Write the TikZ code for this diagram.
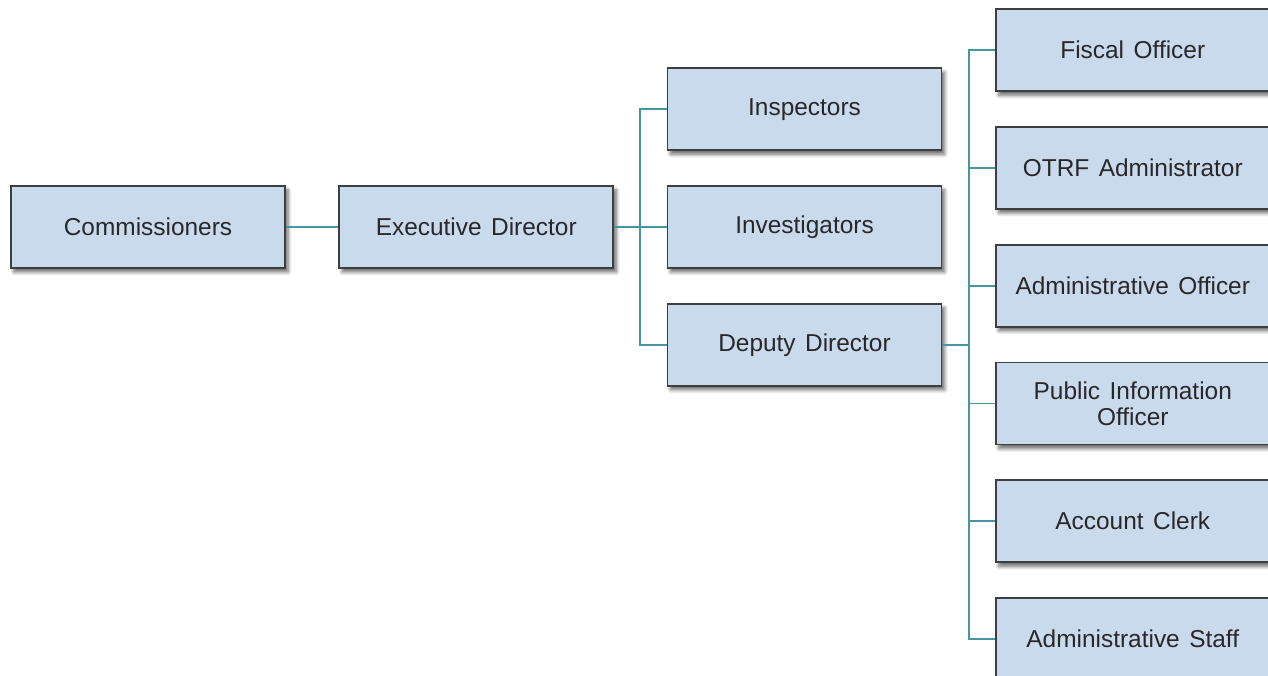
\documentclass[tikz,border=0pt]{standalone}
\usepackage{fontspec}
\setmainfont{Liberation Sans}[WordSpace=1.4]
\usetikzlibrary{positioning,calc,shadows.blur}
\definecolor{boxfill}{RGB}{201,218,237}
\definecolor{boxedge}{RGB}{62,62,62}
\definecolor{wire}{RGB}{70,150,162}
\definecolor{ink}{RGB}{40,40,40}
\tikzstyle{box} = [rectangle, draw=boxedge, line width=1pt, fill=boxfill, text=ink,
    minimum width=5.48cm, minimum height=1.64cm, align=center,
    font=\fontsize{13.9}{15}\selectfont,
    blur shadow={shadow xshift=0.06cm, shadow yshift=-0.08cm, shadow blur steps=6, shadow opacity=60}]
\tikzstyle{line} = [draw=wire, line width=1.1pt]

\begin{document}
\begin{tikzpicture}[node distance=0.68cm and 1.05cm]
	\useasboundingbox (0,0) rectangle (25.36,-13.52);

		\node [box] (comm) at (2.96,-4.54) {Commissioners};
		\node [box, right=of comm] (exec) {Executive Director};
		\node [box, right=of exec] (invest) {Investigators};
		\node [box, above=of invest] (insp) {Inspectors};
		\node [box, below=of invest] (deputy) {Deputy Director};

		\node [box, right=of deputy, yshift=1.18cm] (admoff) {Administrative Officer};
		\node [box, above=of admoff] (otrf) {OTRF Administrator};
		\node [box, above=of otrf] (fiscal) {Fiscal Officer};
		\node [box, below=of admoff] (pio) {Public Information\\Officer};
		\node [box, below=of pio] (clerk) {Account Clerk};
		\node [box, below=of clerk] (staff) {Administrative Staff};

		\coordinate (execbus) at ($(exec.east)!0.5!(invest.west)$);
		\coordinate (depbus) at ($(deputy.east)!0.5!(deputy.east -| admoff.west)$);

		\path [line] (comm) -- (exec);
		\path [line] (exec) -- (invest);
		\path [line] (execbus) |- (insp);
		\path [line] (execbus) |- (deputy);
		\path [line] (deputy.east) -- (depbus);
		\foreach \n in {fiscal,otrf,admoff,pio,clerk,staff}
			\path [line] (depbus) |- (\n);
	\end{tikzpicture}
\end{document}
